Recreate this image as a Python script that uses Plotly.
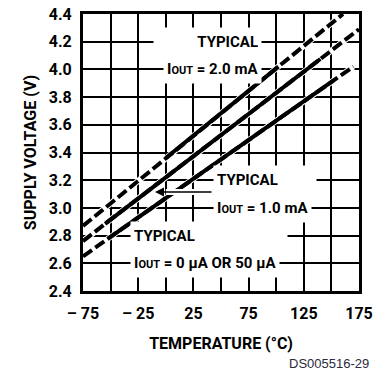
import plotly.graph_objects as go

# ---- data ----
# Each curve: [start of dashed, start of solid, end of solid, end of dashed]
temp_2mA = [-75, 0, 102, 160.5]
volt_2mA = [2.87, 3.36, 4.02, 4.40]

temp_1mA = [-75, -55, 140, 175]
volt_1mA = [2.76, 2.885, 4.075, 4.29]

temp_0uA = [-75, -52, 152, 170]
volt_0uA = [2.65, 2.78, 3.92, 4.02]

x_tickvals = [-75, -50, -25, 0, 25, 50, 75, 100, 125, 150, 175]
x_ticktext = ["\u2013 75", "", "\u2013 25", "", "25", "", "75", "", "125", "", "175"]
y_tickvals = [2.4, 2.6, 2.8, 3.0, 3.2, 3.4, 3.6, 3.8, 4.0, 4.2, 4.4]
y_ticktext = ["2.4", "2.6", "2.8", "3.0", "3.2", "3.4", "3.6", "3.8", "4.0", "4.2", "4.4"]

FONT = "Roboto, 'Liberation Sans', Arial, sans-serif"
BOLD = dict(family=FONT, size=15, color="black", weight="bold")
BOLD16 = dict(family=FONT, size=16, color="black", weight="bold")

fig = go.Figure()

for t, v in [(temp_2mA, volt_2mA), (temp_1mA, volt_1mA), (temp_0uA, volt_0uA)]:
    # white halo so gridlines do not show between dashes
    fig.add_trace(go.Scatter(x=t, y=v, mode="lines", line=dict(color="white", width=6),
                             hoverinfo="skip", showlegend=False))
    fig.add_trace(go.Scatter(x=t, y=v, mode="lines",
                             line=dict(color="black", width=4, dash="11px,4px"),
                             hoverinfo="skip", showlegend=False))
    fig.add_trace(go.Scatter(x=t[1:3], y=v[1:3], mode="lines",
                             line=dict(color="black", width=4),
                             hoverinfo="skip", showlegend=False))

OUT = "I<span style='font-size:11px'>OUT</span>"
ann = []
# leader arrow (white halo first, then black arrow)
ann.append(dict(x=0, y=3.115, ax=42.75, ay=3.115, xref="x", yref="y", axref="x", ayref="y",
                text="", showarrow=True, arrowhead=0, arrowwidth=6, arrowcolor="white"))
ann.append(dict(x=-9.8, y=3.115, ax=42.75, ay=3.115, xref="x", yref="y", axref="x", ayref="y",
                text="", showarrow=True, arrowhead=2, arrowsize=1.2, arrowwidth=1.5, arrowcolor="black"))

def label(text, x, y, anchor, w=None):
    d = dict(x=x, y=y, xref="x", yref="y", text=text, showarrow=False,
             xanchor=anchor, yanchor="middle", align=anchor, height=22,
             bgcolor="white", borderpad=3, font=BOLD)
    if w is not None:
        d["width"] = w
    return d

ann.append(label("TYPICAL", 87, 4.2, "right", 101))
ann.append(label(OUT + " = 2.0 mA", 87, 4.0, "right"))
ann.append(label("TYPICAL", 42.75, 3.2, "left", 96))
ann.append(label(OUT + " = 1.0 mA", 42.75, 3.0, "left"))
ann.append(label("TYPICAL", -32.4, 2.8, "left", 150))
ann.append(label(OUT + " = 0 \u00b5A OR 50 \u00b5A", -32.4, 2.6, "left"))

ann.append(dict(x=1.0435, y=-0.2635, xref="paper", yref="paper", text="DS005516-29",
                showarrow=False, xanchor="right", yanchor="middle",
                font=dict(family="'Liberation Sans', Arial, sans-serif", size=13, color="#2b2b3b")))

fig.update_layout(
    width=374, height=372,
    margin=dict(l=83, r=15, t=14, b=81, autoexpand=False),
    paper_bgcolor="white", plot_bgcolor="white",
    annotations=ann,
    showlegend=False,
)
fig.update_xaxes(range=[-75, 175], tickvals=x_tickvals, ticktext=x_ticktext,
                 showgrid=True, gridcolor="black", gridwidth=1.5,
                 showline=True, linecolor="black", linewidth=3, mirror=True,
                 ticks="", zeroline=False, tickfont=BOLD16, automargin=False,
                 ticklabelstandoff=6,
                 title=dict(text="TEMPERATURE (\u00b0C)", font=BOLD16, standoff=16))
fig.update_yaxes(range=[2.4, 4.4], tickvals=y_tickvals, ticktext=y_ticktext,
                 showgrid=True, gridcolor="black", gridwidth=1.5,
                 showline=True, linecolor="black", linewidth=3, mirror=True,
                 ticks="", zeroline=False, tickfont=BOLD16, automargin=False,
                 ticklabelstandoff=5,
                 title=dict(text="SUPPLY VOLTAGE (V)", font=BOLD16, standoff=9))

fig.write_html("out.html", config={"displayModeBar": False},
               post_script="document.body.style.margin='0';document.body.style.overflow='hidden';")
